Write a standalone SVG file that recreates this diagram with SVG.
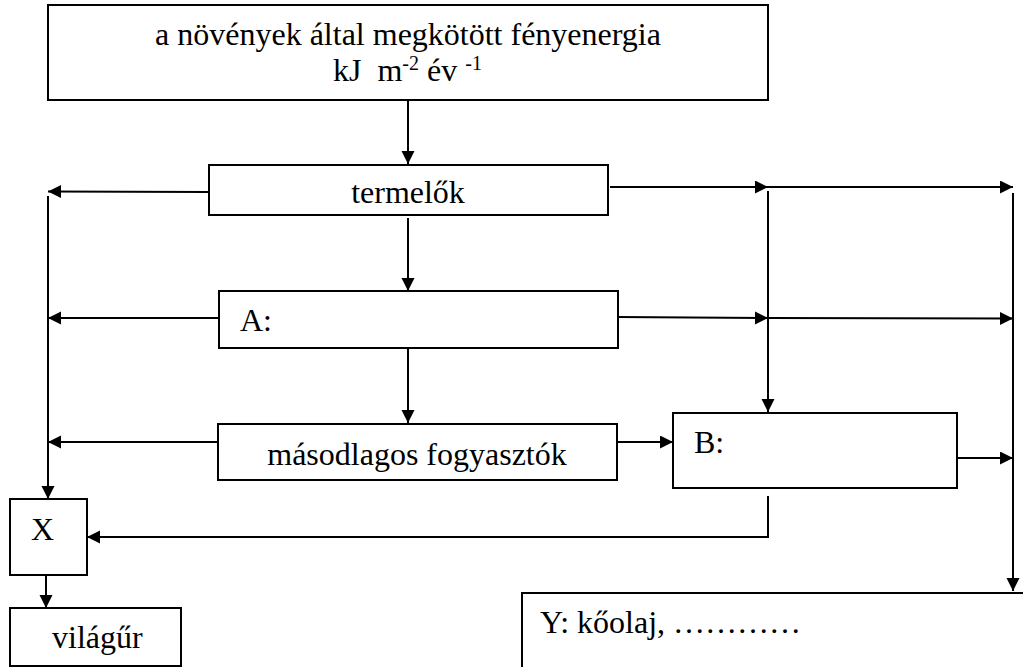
<svg xmlns="http://www.w3.org/2000/svg" width="1023" height="667" viewBox="0 0 1023 667">
<style>
.box{fill:#fff;stroke:#000;stroke-width:2}
.t{font-family:"Liberation Serif","Times New Roman",serif;font-size:32px;fill:#000}
.c{text-anchor:middle}
.sup{font-size:20px}
.ln{fill:none;stroke:#000;stroke-width:2}
</style>
<defs>
<marker id="ah" markerUnits="userSpaceOnUse" markerWidth="14" markerHeight="14" refX="13" refY="6.5" orient="auto">
<path d="M0,0 L13,6.5 L0,13 Z" fill="#000"/>
</marker>
</defs>
<rect width="1023" height="667" fill="#fff"/>
<g id="connectors">
<line class="ln" x1="408" y1="100" x2="408" y2="164" marker-end="url(#ah)"/>
<line class="ln" x1="408" y1="218" x2="408" y2="291" marker-end="url(#ah)"/>
<line class="ln" x1="408" y1="348" x2="408" y2="423" marker-end="url(#ah)"/>
<line class="ln" x1="209" y1="192" x2="48" y2="191.5" marker-end="url(#ah)"/>
<line class="ln" x1="219" y1="318" x2="48" y2="318" marker-end="url(#ah)"/>
<line class="ln" x1="218" y1="442" x2="48" y2="442" marker-end="url(#ah)"/>
<line class="ln" x1="48" y1="196" x2="48" y2="499" marker-end="url(#ah)"/>
<line class="ln" x1="610" y1="187" x2="768" y2="187" marker-end="url(#ah)"/>
<line class="ln" x1="768" y1="187" x2="1013" y2="187" marker-end="url(#ah)"/>
<line class="ln" x1="617" y1="317" x2="768" y2="318" marker-end="url(#ah)"/>
<line class="ln" x1="768" y1="318" x2="1013" y2="318.5" marker-end="url(#ah)"/>
<line class="ln" x1="768" y1="191" x2="768" y2="412" marker-end="url(#ah)"/>
<line class="ln" x1="1013" y1="193" x2="1013" y2="591" marker-end="url(#ah)"/>
<line class="ln" x1="617" y1="442" x2="673" y2="442" marker-end="url(#ah)"/>
<line class="ln" x1="957" y1="458" x2="1013" y2="458" marker-end="url(#ah)"/>
<polyline class="ln" points="768,496 768,537 87,537" marker-end="url(#ah)"/>
<line class="ln" x1="46" y1="574" x2="46" y2="608" marker-end="url(#ah)"/>
</g>
<g id="energia">
<rect class="box" x="48" y="5" width="720" height="95"/>
<text class="t c" x="408" y="45">a növények által megkötött fényenergia</text>
<text class="t" x="333" y="81">kJ&#160; m<tspan class="sup" dy="-11">-2</tspan><tspan dy="11"> év </tspan><tspan class="sup" dy="-11">-1</tspan></text>
</g>
<g id="termelok">
<rect class="box" x="209" y="165" width="399" height="50"/>
<text class="t c" x="408" y="203">termelők</text>
</g>
<g id="A">
<rect class="box" x="219" y="291" width="399" height="57"/>
<text class="t" x="240" y="331">A:</text>
</g>
<g id="masodlagos">
<rect class="box" x="218" y="424" width="399" height="56"/>
<text class="t c" x="417" y="465">másodlagos fogyasztók</text>
</g>
<g id="B">
<rect class="box" x="673" y="413" width="284" height="75"/>
<text class="t" x="694" y="453">B:</text>
</g>
<g id="X">
<rect class="box" x="10" y="499" width="77" height="76"/>
<text class="t" x="31" y="540">X</text>
</g>
<g id="vilagur">
<rect class="box" x="10" y="608" width="171" height="58"/>
<text class="t" x="52" y="648">világűr</text>
</g>
<g id="Y">
<rect class="box" x="522" y="593" width="520" height="100"/>
<text class="t" x="540" y="633">Y: kőolaj, …………</text>
</g>
</svg>
